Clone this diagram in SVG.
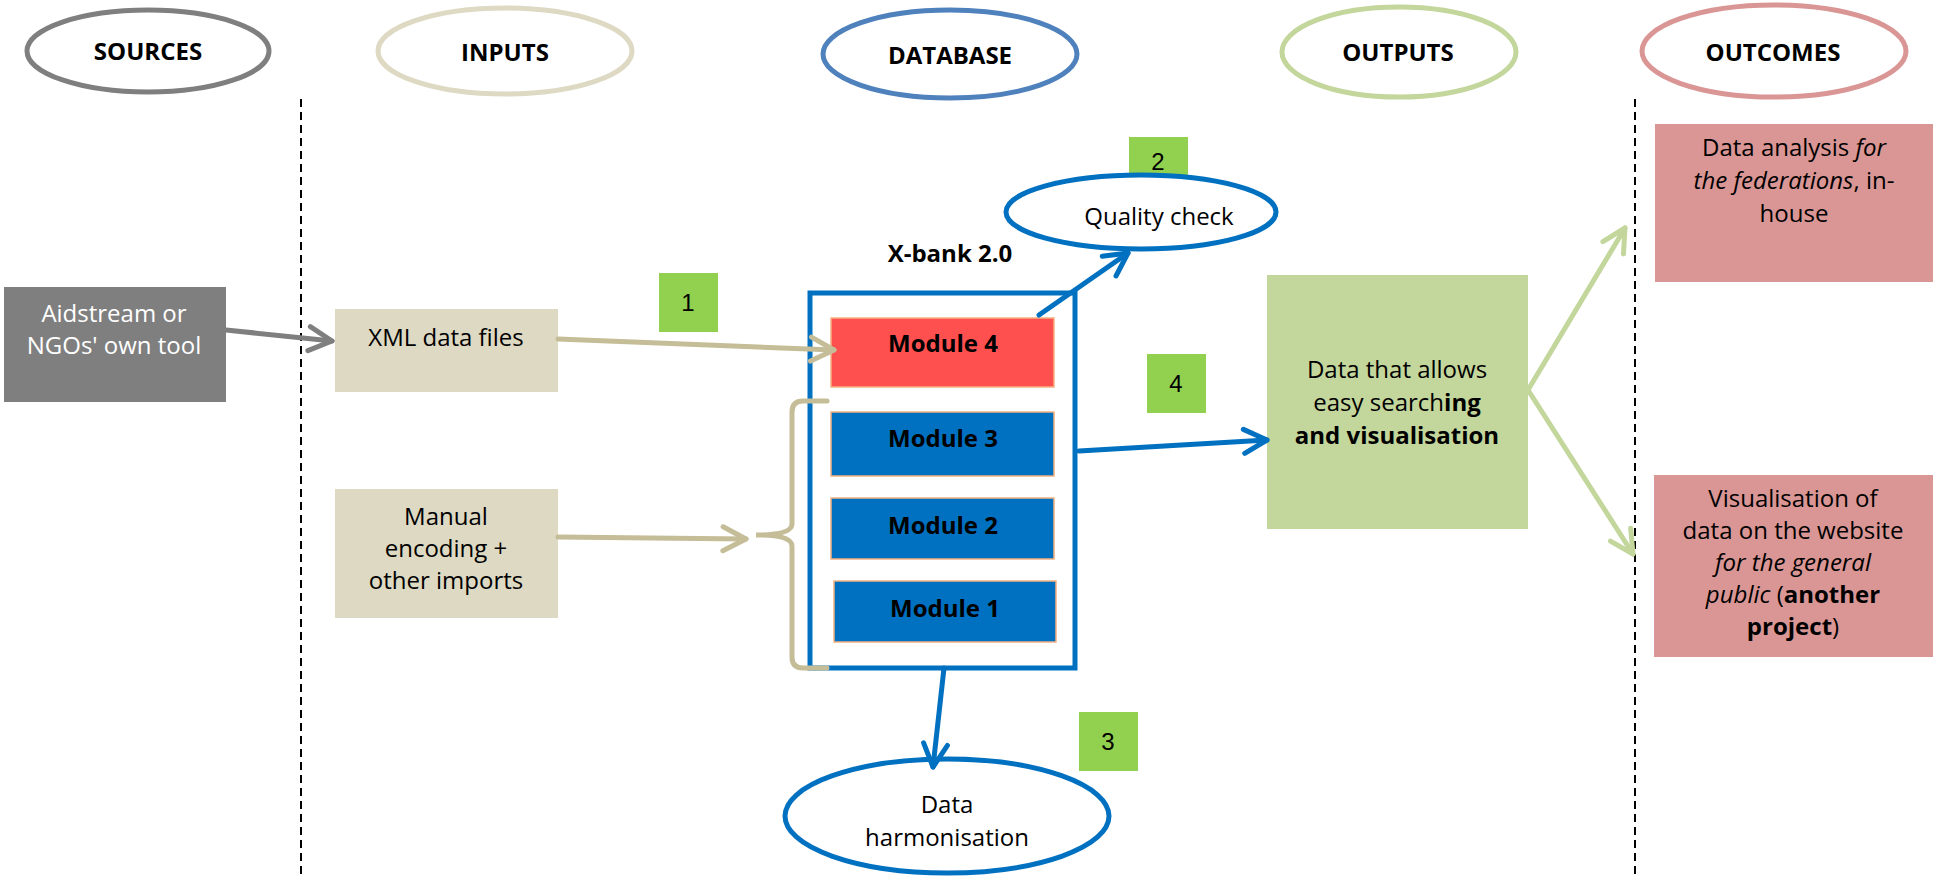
<svg xmlns="http://www.w3.org/2000/svg" width="1933" height="879" viewBox="0 0 1933 879">
<defs>
<style>
text{font-family:"Open Sans","Noto Sans","DejaVu Sans",sans-serif;fill:#000;text-anchor:middle}
.hd{font-size:24px;font-weight:bold}
.bd{font-size:24px}
.md{font-size:24px;font-weight:bold}
.num{font-family:"Liberation Sans",Arial,sans-serif;font-size:24px}
.b{font-weight:bold}
.i{font-style:italic}
.hell{fill:#fff;stroke-width:5}
.div{stroke:#000;stroke-width:2;stroke-dasharray:8 5}
.mod{stroke:#f4b183;stroke-width:1.5}
.badge{fill:#92d050}
.conn{fill:none;stroke-width:5;stroke-linecap:round}
</style>
<marker id="aGray" markerUnits="userSpaceOnUse" markerWidth="32" markerHeight="32" viewBox="0 0 32 32" refX="28" refY="16" orient="auto"><path d="M5,4 L28,16 L5,28" fill="none" stroke="#7f7f7f" stroke-width="5" stroke-linecap="round" stroke-linejoin="round"/></marker>
<marker id="aTan" markerUnits="userSpaceOnUse" markerWidth="32" markerHeight="32" viewBox="0 0 32 32" refX="28" refY="16" orient="auto"><path d="M5,4 L28,16 L5,28" fill="none" stroke="#c4bd97" stroke-width="5" stroke-linecap="round" stroke-linejoin="round"/></marker>
<marker id="aBlue" markerUnits="userSpaceOnUse" markerWidth="32" markerHeight="32" viewBox="0 0 32 32" refX="28" refY="16" orient="auto"><path d="M5,4 L28,16 L5,28" fill="none" stroke="#0070c0" stroke-width="5" stroke-linecap="round" stroke-linejoin="round"/></marker>
<marker id="aGreen" markerUnits="userSpaceOnUse" markerWidth="32" markerHeight="32" viewBox="0 0 32 32" refX="28" refY="16" orient="auto"><path d="M5,4 L28,16 L5,28" fill="none" stroke="#c3d69b" stroke-width="5" stroke-linecap="round" stroke-linejoin="round"/></marker>
</defs>
<rect width="1933" height="879" fill="#fff"/>

<g id="headers">
<g id="h-sources"><ellipse class="hell" cx="148" cy="51" rx="121" ry="41" stroke="#7f7f7f"/><text class="hd" x="148" y="60">SOURCES</text></g>
<g id="h-inputs"><ellipse class="hell" cx="505" cy="51" rx="127" ry="43" stroke="#ddd9c3"/><text class="hd" x="505" y="61">INPUTS</text></g>
<g id="h-database"><ellipse class="hell" cx="950" cy="54" rx="127" ry="44" stroke="#4f81bd"/><text class="hd" x="950" y="64">DATABASE</text></g>
<g id="h-outputs"><ellipse class="hell" cx="1399" cy="52" rx="117" ry="45" stroke="#c3d69b"/><text class="hd" x="1398" y="61">OUTPUTS</text></g>
<g id="h-outcomes"><ellipse class="hell" cx="1774" cy="51" rx="132" ry="46" stroke="#d99694"/><text class="hd" x="1773" y="61">OUTCOMES</text></g>
</g>

<g id="dividers">
<line class="div" x1="301" y1="99" x2="301" y2="879"/>
<line class="div" x1="1635" y1="99" x2="1635" y2="879"/>
</g>

<g id="source-box"><rect x="4" y="287" width="222" height="115" fill="#7f7f7f"/>
<text class="bd" x="114" y="322" style="fill:#fff">Aidstream or</text>
<text class="bd" x="114" y="354" style="fill:#fff">NGOs' own tool</text></g>

<g id="xml-box"><rect x="335" y="309" width="223" height="83" fill="#ddd9c3"/>
<text class="bd" x="446" y="346">XML data files</text></g>

<g id="manual-box"><rect x="335" y="489" width="223" height="129" fill="#ddd9c3"/>
<text class="bd" x="446" y="525">Manual</text>
<text class="bd" x="446" y="557">encoding +</text>
<text class="bd" x="446" y="589">other imports</text></g>

<g id="xbank">
<text class="md" x="950" y="262">X-bank 2.0</text>
<rect x="810" y="293" width="265" height="375" fill="#fff" stroke="#0070c0" stroke-width="5"/>
</g>
<g id="module4"><rect class="mod" x="831" y="318" width="223" height="69" fill="#ff5050"/><text class="md" x="943" y="352">Module 4</text></g>
<g id="module3"><rect class="mod" x="831" y="412" width="223" height="64" fill="#0070c0"/><text class="md" x="943" y="447">Module 3</text></g>
<g id="module2"><rect class="mod" x="831" y="498" width="223" height="61" fill="#0070c0"/><text class="md" x="943" y="534">Module 2</text></g>
<g id="module1"><rect class="mod" x="834" y="581" width="222" height="61" fill="#0070c0"/><text class="md" x="945" y="617">Module 1</text></g>

<g id="badge1"><rect class="badge" x="659" y="273" width="59" height="59"/><text class="num" x="688" y="311">1</text></g>
<g id="badge2"><rect class="badge" x="1129" y="137" width="59" height="59"/><text class="num" x="1158" y="170">2</text></g>
<g id="badge3"><rect class="badge" x="1079" y="712" width="59" height="59"/><text class="num" x="1108" y="750">3</text></g>
<g id="badge4"><rect class="badge" x="1147" y="354" width="59" height="59"/><text class="num" x="1176" y="392">4</text></g>

<g id="quality-check"><ellipse cx="1141" cy="212" rx="135" ry="37" fill="#fff" stroke="#0070c0" stroke-width="5"/><text class="bd" x="1159" y="225">Quality check</text></g>

<g id="harmonisation"><ellipse cx="947" cy="816" rx="162" ry="57" fill="#fff" stroke="#0070c0" stroke-width="5"/>
<text class="bd" x="947" y="813">Data</text>
<text class="bd" x="947" y="846">harmonisation</text></g>

<g id="output-box"><rect x="1267" y="275" width="261" height="254" fill="#c3d69b"/>
<text class="bd" x="1397" y="378">Data that allows</text>
<text class="bd" x="1397" y="411">easy search<tspan class="b">ing</tspan></text>
<text class="bd b" x="1397" y="444">and visualisation</text></g>

<g id="outcome-analysis"><rect x="1655" y="124" width="278" height="158" fill="#d99694"/>
<text class="bd" x="1794" y="156">Data analysis <tspan class="i">for</tspan></text>
<text class="bd" x="1794" y="189"><tspan class="i">the federations</tspan>, in-</text>
<text class="bd" x="1794" y="222">house</text></g>

<g id="outcome-visualisation"><rect x="1654" y="475" width="279" height="182" fill="#d99694"/>
<text class="bd" x="1793" y="507">Visualisation of</text>
<text class="bd" x="1793" y="539">data on the website</text>
<text class="bd i" x="1793" y="571">for the general</text>
<text class="bd" x="1793" y="603"><tspan class="i">public</tspan> (<tspan class="b">another</tspan></text>
<text class="bd" x="1793" y="635"><tspan class="b">project</tspan>)</text></g>

<g id="connectors">
<line class="conn" stroke="#7f7f7f" x1="226" y1="330" x2="332" y2="341" marker-end="url(#aGray)"/>
<line class="conn" stroke="#c4bd97" x1="558" y1="339" x2="834" y2="350" marker-end="url(#aTan)"/>
<line class="conn" stroke="#c4bd97" x1="558" y1="537" x2="746" y2="539" marker-end="url(#aTan)"/>
<path class="conn" stroke="#c4bd97" d="M827,401 L803,401 Q792,401 792,412 L792,524 Q792,535 756,535 Q792,535 792,546 L792,657 Q792,668 803,668 L827,668"/>
<line class="conn" stroke="#0070c0" x1="1039" y1="315" x2="1128" y2="253" marker-end="url(#aBlue)"/>
<line class="conn" stroke="#0070c0" x1="944" y1="668" x2="933" y2="767" marker-end="url(#aBlue)"/>
<line class="conn" stroke="#0070c0" x1="1079" y1="451" x2="1267" y2="440" marker-end="url(#aBlue)"/>
<line class="conn" stroke="#c3d69b" x1="1528" y1="390" x2="1625" y2="228" marker-end="url(#aGreen)"/>
<line class="conn" stroke="#c3d69b" x1="1528" y1="390" x2="1633" y2="554" marker-end="url(#aGreen)"/>
</g>
</svg>
